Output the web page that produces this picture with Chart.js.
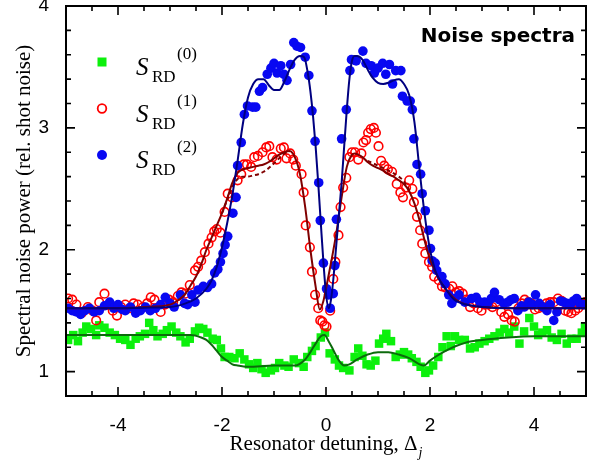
<!DOCTYPE html>
<html lang="en">
<head>
  <meta charset="UTF-8">
  <title>Noise spectra</title>
  <script src="https://cdn.jsdelivr.net/npm/chart.js"></script>
  <style>
    html, body {
      margin: 0;
      padding: 0;
      background: #fff;
    }
  </style>
</head>
<body>

<canvas id="noiseChart" width="592" height="466"></canvas>

<script>
// axis labels
const xTicks = [-4, -2, 0, 2, 4];
const yTicks = [1, 2, 3, 4];

// S_RD^(0) - green squares
const s0X = [-4.96,-4.86,-4.77,-4.68,-4.61,-4.52,-4.42,-4.36,-4.26,-4.16,
  -4.06,-3.96,-3.86,-3.76,-3.66,-3.58,-3.48,-3.40,-3.32,-3.24,
  -3.14,-3.06,-2.97,-2.88,-2.80,-2.70,-2.62,-2.52,-2.44,-2.36,
  -2.28,-2.18,-2.10,-2.02,-1.95,-1.86,-1.76,-1.66,-1.57,-1.48,
  -1.40,-1.32,-1.24,-1.16,-1.06,-0.98,-0.90,-0.80,-0.72,-0.62,
  -0.52,-0.43,-0.36,-0.27,-0.20,-0.10,-0.02,0.07,0.17,0.25,
  0.33,0.45,0.55,0.62,0.70,0.78,0.86,0.95,1.02,1.10,
  1.16,1.25,1.34,1.42,1.50,1.58,1.65,1.74,1.82,1.91,
  1.98,2.06,2.16,2.24,2.32,2.40,2.48,2.56,2.67,2.77,
  2.86,2.95,3.05,3.14,3.24,3.34,3.43,3.52,3.62,3.72,
  3.81,3.91,4.00,4.08,4.16,4.25,4.34,4.44,4.53,4.63,
  4.72,4.82,4.92,4.98];
const s0Y = [1.26,1.30,1.25,1.32,1.37,1.35,1.30,1.38,1.36,1.32,
  1.30,1.27,1.26,1.22,1.27,1.29,1.31,1.40,1.34,1.29,
  1.31,1.34,1.37,1.32,1.29,1.24,1.27,1.33,1.36,1.35,
  1.32,1.27,1.26,1.19,1.12,1.12,1.11,1.15,1.10,1.06,
  1.03,1.07,1.02,0.99,1.01,1.03,1.07,1.05,1.04,1.10,
  1.07,1.04,1.12,1.17,1.21,1.28,1.32,1.15,1.10,1.05,
  1.03,1.01,1.12,1.19,1.13,1.06,1.05,1.09,1.23,1.27,
  1.31,1.25,1.12,1.14,1.16,1.14,1.11,1.08,1.04,0.99,
  1.01,1.05,1.12,1.20,1.29,1.21,1.29,1.26,1.26,1.19,
  1.20,1.23,1.25,1.27,1.29,1.32,1.35,1.32,1.37,1.23,
  1.33,1.44,1.37,1.30,1.32,1.34,1.28,1.26,1.31,1.23,
  1.27,1.27,1.32,1.37];

// S_RD^(1) - red open circles
const s1X = [-4.96,-4.88,-4.80,-4.70,-4.58,-4.49,-4.42,-4.36,-4.26,-4.18,
  -4.10,-4.02,-3.94,-3.86,-3.78,-3.70,-3.62,-3.52,-3.44,-3.37,
  -3.30,-3.18,-3.10,-3.02,-2.94,-2.85,-2.78,-2.71,-2.62,-2.52,
  -2.46,-2.40,-2.33,-2.26,-2.20,-2.15,-2.10,-2.03,-1.95,-1.89,
  -1.81,-1.70,-1.63,-1.58,-1.52,-1.44,-1.38,-1.31,-1.22,-1.15,
  -1.09,-1.03,-0.95,-0.87,-0.81,-0.76,-0.69,-0.63,-0.58,-0.47,
  -0.43,-0.39,-0.31,-0.27,-0.21,-0.15,-0.11,-0.07,-0.03,0.01,
  0.08,0.14,0.18,0.24,0.28,0.33,0.39,0.45,0.50,0.56,
  0.62,0.68,0.72,0.77,0.81,0.86,0.92,0.96,1.01,1.06,
  1.12,1.19,1.27,1.36,1.43,1.48,1.54,1.60,1.66,1.69,
  1.75,1.81,1.85,1.91,1.98,2.04,2.08,2.17,2.23,2.30,
  2.37,2.43,2.50,2.56,2.63,2.70,2.77,2.84,2.92,2.99,
  3.05,3.12,3.20,3.27,3.37,3.43,3.50,3.57,3.63,3.70,
  3.76,3.82,3.89,3.95,4.02,4.09,4.16,4.24,4.31,4.38,
  4.46,4.53,4.60,4.66,4.72,4.79,4.85,4.93,4.99];
const s1Y = [1.60,1.59,1.55,1.48,1.53,1.50,1.42,1.57,1.64,1.55,
  1.50,1.46,1.53,1.55,1.52,1.56,1.55,1.53,1.56,1.61,
  1.59,1.49,1.55,1.59,1.57,1.62,1.65,1.64,1.71,1.83,
  1.86,1.91,1.98,2.05,2.10,2.15,2.17,2.14,2.31,2.46,
  2.43,2.57,2.62,2.70,2.70,2.68,2.76,2.77,2.80,2.84,
  2.85,2.76,2.74,2.83,2.84,2.75,2.79,2.74,2.69,2.62,
  2.47,2.20,2.02,1.82,1.63,1.52,1.42,1.41,1.38,1.37,
  1.50,1.76,1.90,2.12,2.35,2.51,2.59,2.76,2.80,2.80,
  2.74,2.79,2.88,2.90,2.96,2.99,3.00,2.96,2.85,2.73,
  2.69,2.66,2.64,2.54,2.47,2.43,2.51,2.57,2.50,2.39,
  2.27,2.16,2.05,1.97,1.90,1.86,1.78,1.75,1.70,1.69,
  1.68,1.70,1.65,1.66,1.64,1.59,1.53,1.56,1.52,1.50,
  1.55,1.55,1.53,1.57,1.49,1.45,1.47,1.42,1.41,1.52,
  1.56,1.59,1.57,1.56,1.51,1.52,1.53,1.56,1.57,1.57,
  1.60,1.58,1.50,1.49,1.48,1.50,1.52,1.56,1.57];

// S_RD^(2) - blue dots
const s2X = [-4.96,-4.88,-4.80,-4.72,-4.64,-4.55,-4.46,-4.36,-4.26,-4.16,
  -4.08,-4.00,-3.92,-3.86,-3.76,-3.66,-3.57,-3.47,-3.38,-3.28,
  -3.18,-3.09,-3.00,-2.92,-2.80,-2.72,-2.66,-2.58,-2.52,-2.46,
  -2.36,-2.28,-2.20,-2.14,-2.08,-2.03,-1.98,-1.94,-1.89,-1.79,
  -1.73,-1.70,-1.63,-1.57,-1.51,-1.41,-1.35,-1.28,-1.22,-1.13,
  -1.06,-1.00,-0.94,-0.87,-0.81,-0.75,-0.68,-0.62,-0.56,-0.49,
  -0.40,-0.33,-0.27,-0.21,-0.14,-0.11,-0.05,0.01,0.05,0.08,
  0.14,0.17,0.20,0.30,0.39,0.46,0.49,0.58,0.71,0.77,
  0.87,0.93,1.00,1.09,1.15,1.22,1.28,1.34,1.44,1.47,
  1.56,1.62,1.66,1.69,1.75,1.82,1.85,1.91,1.98,2.01,
  2.04,2.10,2.13,2.23,2.29,2.36,2.42,2.48,2.56,2.67,
  2.80,2.89,2.96,3.05,3.11,3.18,3.24,3.33,3.42,3.50,
  3.56,3.62,3.69,3.76,3.81,3.90,3.97,4.03,4.10,4.18,
  4.25,4.31,4.38,4.44,4.51,4.57,4.63,4.70,4.76,4.82,
  4.88,4.95];
const s2Y = [1.52,1.50,1.49,1.47,1.50,1.52,1.49,1.50,1.54,1.57,
  1.52,1.55,1.51,1.50,1.53,1.48,1.50,1.53,1.50,1.52,
  1.55,1.61,1.56,1.53,1.63,1.56,1.55,1.63,1.57,1.67,
  1.70,1.69,1.72,1.81,1.84,1.90,1.97,2.04,2.11,2.30,
  2.43,2.69,2.88,3.11,3.18,3.17,3.17,3.30,3.33,3.44,
  3.49,3.53,3.45,3.51,3.44,3.39,3.52,3.70,3.67,3.66,
  3.58,3.43,3.14,2.89,2.55,2.24,1.89,1.68,1.63,1.52,
  1.64,1.87,2.25,2.91,3.15,3.47,3.56,3.55,3.63,3.53,
  3.51,3.45,3.49,3.53,3.44,3.52,3.36,3.47,3.47,3.26,
  3.22,3.22,3.15,2.91,2.70,2.62,2.46,2.32,2.16,2.01,
  1.91,1.89,1.83,1.78,1.72,1.63,1.56,1.60,1.63,1.57,
  1.60,1.61,1.57,1.57,1.56,1.60,1.65,1.59,1.56,1.57,
  1.59,1.60,1.50,1.54,1.53,1.57,1.55,1.63,1.56,1.53,
  1.50,1.55,1.42,1.49,1.58,1.57,1.56,1.55,1.58,1.60,
  1.56,1.55];

// fitted curves
const fit0X = [-5,-4,-3,-2.6,-2.4,-2.3,-2.2,-2.1,-2.0,-1.9,
  -1.8,-1.7,-1.5,-1.0,-0.6,-0.4,-0.3,-0.2,-0.1,-0.03,
  0.05,0.15,0.25,0.35,0.45,0.6,0.8,1.0,1.2,1.4,
  1.6,1.8,1.88,2.0,2.1,2.3,2.5,2.7,3.0,3.5,4.0,5];
const fit0Y = [1.30,1.30,1.30,1.30,1.28,1.26,1.22,1.17,1.12,1.09,
  1.06,1.05,1.04,1.05,1.05,1.10,1.16,1.23,1.29,1.30,
  1.25,1.17,1.09,1.05,1.06,1.10,1.14,1.16,1.16,1.14,
  1.11,1.06,1.05,1.09,1.12,1.17,1.21,1.24,1.26,1.28,1.29,1.29];

const fit1X = [-5,-4,-3.5,-3,-2.8,-2.7,-2.6,-2.5,-2.4,-2.3,
  -2.2,-2.1,-2.0,-1.9,-1.8,-1.7,-1.6,-1.5,-1.4,-1.3,
  -1.2,-1.1,-1.0,-0.9,-0.8,-0.7,-0.6,-0.5,-0.4,-0.3,
  -0.2,-0.12,-0.05,0,0.1,0.2,0.3,0.4,0.5,0.55,
  0.7,0.8,0.9,1.0,1.1,1.2,1.3,1.4,1.5,1.6,
  1.7,1.8,1.9,2.0,2.1,2.2,2.3,2.4,2.5,2.7,
  3.0,4,5];
const fit1Y = [1.52,1.52,1.53,1.55,1.60,1.64,1.71,1.78,1.88,2.00,
  2.10,2.20,2.30,2.42,2.55,2.63,2.66,2.67,2.68,2.69,
  2.70,2.72,2.75,2.78,2.80,2.81,2.76,2.62,2.35,2.00,
  1.70,1.51,1.58,1.68,1.90,2.14,2.43,2.68,2.78,2.79,
  2.76,2.72,2.69,2.67,2.65,2.62,2.60,2.57,2.54,2.48,
  2.38,2.24,2.07,1.92,1.82,1.74,1.68,1.63,1.59,1.55,
  1.53,1.52,1.52];

// second model for S_RD^(1), dashed (only where it departs from the solid one)
const fit1bLeftX = [-2.0,-1.9,-1.8,-1.7,-1.6,-1.5,-1.4,-1.3,-1.2,-1.1,-1.0,-0.9,-0.8,-0.7];
const fit1bLeftY = [2.30,2.41,2.52,2.58,2.60,2.60,2.61,2.62,2.64,2.67,2.71,2.75,2.79,2.81];
const fit1bRightX = [0.8,1.0,1.2,1.4,1.5,1.6];
const fit1bRightY = [2.73,2.69,2.65,2.60,2.56,2.49];

const fit2X = [-5,-4,-3.5,-3,-2.7,-2.5,-2.3,-2.2,-2.1,-2.0,
  -1.9,-1.8,-1.7,-1.6,-1.5,-1.4,-1.3,-1.2,-1.1,-1.0,
  -0.9,-0.8,-0.7,-0.6,-0.5,-0.42,-0.35,-0.3,-0.25,-0.2,
  -0.15,-0.1,-0.05,0,0.05,0.1,0.15,0.2,0.25,0.3,
  0.35,0.4,0.45,0.5,0.55,0.6,0.7,0.8,0.9,1.0,
  1.1,1.2,1.3,1.4,1.5,1.6,1.7,1.8,1.9,2.0,
  2.1,2.2,2.3,2.4,2.5,2.7,3.0,3.5,4,5];
const fit2Y = [1.52,1.52,1.525,1.53,1.56,1.60,1.68,1.75,1.86,2.02,
  2.22,2.45,2.73,3.03,3.25,3.36,3.40,3.40,3.35,3.31,
  3.31,3.38,3.48,3.56,3.59,3.58,3.45,3.30,3.10,2.85,
  2.55,2.22,1.90,1.64,1.52,1.60,1.80,2.05,2.30,2.55,
  2.85,3.15,3.40,3.55,3.59,3.59,3.56,3.48,3.41,3.37,
  3.36,3.37,3.39,3.40,3.36,3.27,3.05,2.65,2.28,2.00,
  1.83,1.74,1.68,1.62,1.58,1.55,1.53,1.52,1.52,1.52];

const GREEN = '#0cf00c';
const RED = '#ff0000';
const BLUE = '#0808f2';

function pts(xs, ys) {
  return xs.map((x, i) => ({ x: x, y: ys[i] }));
}

function fitLine(xs, ys, color, dash) {
  return {
    data: pts(xs, ys),
    showLine: true,
    borderColor: color,
    borderWidth: 2,
    borderDash: dash || [],
    pointRadius: 0,
    cubicInterpolationMode: 'monotone',
    fill: false
  };
}

// frame, inward ticks, titles, legend and label
const decor = {
  id: 'decor',
  afterDraw(chart) {
    const ctx = chart.ctx;
    const a = chart.chartArea;
    const x = chart.scales.x;
    const y = chart.scales.y;

    ctx.save();
    ctx.strokeStyle = '#000';
    ctx.lineWidth = 2;
    ctx.strokeRect(a.left, a.top, a.right - a.left, a.bottom - a.top);

    ctx.lineWidth = 1.6;
    ctx.beginPath();
    for (let i = -10; i <= 10; i++) {
      const px = x.getPixelForValue(i * 0.5);
      const len = (i % 4 === 0) ? 9 : 5;
      ctx.moveTo(px, a.bottom);
      ctx.lineTo(px, a.bottom - len);
      ctx.moveTo(px, a.top);
      ctx.lineTo(px, a.top + len);
    }
    for (let i = 4; i <= 20; i++) {
      const py = y.getPixelForValue(i * 0.2);
      const len = (i % 5 === 0) ? 9 : 5;
      ctx.moveTo(a.left, py);
      ctx.lineTo(a.left + len, py);
      ctx.moveTo(a.right, py);
      ctx.lineTo(a.right - len, py);
    }
    ctx.stroke();

    ctx.fillStyle = '#000';

    // y title
    ctx.save();
    ctx.translate(24, (a.top + a.bottom) / 2);
    ctx.rotate(-Math.PI / 2);
    ctx.font = '21px "Liberation Serif", "Times New Roman", serif';
    ctx.textAlign = 'center';
    ctx.textBaseline = 'middle';
    ctx.fillText('Spectral noise power (rel. shot noise)', 0, 0);
    ctx.restore();

    // x title with italic subscript
    ctx.textAlign = 'left';
    ctx.textBaseline = 'alphabetic';
    ctx.font = '21px "Liberation Serif", "Times New Roman", serif';
    const xt = 'Resonator detuning, \u0394';
    const w = ctx.measureText(xt).width;
    const x0 = (a.left + a.right) / 2 - (w + 5) / 2;
    ctx.fillText(xt, x0, 450);
    ctx.font = 'italic 14px "Liberation Serif", "Times New Roman", serif';
    ctx.fillText('j', x0 + w + 1, 457);

    // legend
    const rows = [
      { sup: '(0)', kind: 'square' },
      { sup: '(1)', kind: 'ring' },
      { sup: '(2)', kind: 'dot' }
    ];
    rows.forEach((r, i) => {
      const cy = 62 + i * 46.5;
      if (r.kind === 'square') {
        ctx.fillStyle = GREEN;
        ctx.fillRect(102 - 4.5, cy - 4.5, 9, 9);
      } else if (r.kind === 'ring') {
        ctx.strokeStyle = RED;
        ctx.lineWidth = 1.8;
        ctx.beginPath();
        ctx.arc(102, cy, 4.3, 0, Math.PI * 2);
        ctx.stroke();
      } else {
        ctx.fillStyle = BLUE;
        ctx.beginPath();
        ctx.arc(102, cy, 5, 0, Math.PI * 2);
        ctx.fill();
      }
      ctx.fillStyle = '#000';
      ctx.font = 'italic 25px "Liberation Serif", "Times New Roman", serif';
      ctx.fillText('S', 136, cy + 13);
      ctx.font = '17px "Liberation Serif", "Times New Roman", serif';
      ctx.fillText('RD', 152, cy + 20);
      ctx.fillText(r.sup, 177, cy - 3);
    });

    // panel label
    ctx.font = 'bold 20px "DejaVu Sans", sans-serif';
    ctx.textAlign = 'right';
    ctx.fillText('Noise spectra', 575, 42);
    ctx.restore();
  }
};

const tickFont = { family: '"Liberation Sans", Arial, sans-serif', size: 19 };

new Chart(document.getElementById('noiseChart'), {
  type: 'scatter',
  data: {
    datasets: [
      fitLine(fit2X, fit2Y, '#000080'),
      fitLine(fit1X, fit1Y, '#800000'),
      fitLine(fit1bLeftX, fit1bLeftY, '#800000', [4, 3]),
      fitLine(fit1bRightX, fit1bRightY, '#800000', [4, 3]),
      fitLine(fit0X, fit0Y, '#0c6a0c'),
      {
        data: pts(s2X, s2Y),
        pointStyle: 'circle',
        pointRadius: 4.8,
        backgroundColor: BLUE,
        borderWidth: 0
      },
      {
        data: pts(s1X, s1Y),
        pointStyle: 'circle',
        pointRadius: 4.3,
        backgroundColor: 'rgba(255,255,255,0)',
        borderColor: RED,
        borderWidth: 1.6
      },
      {
        data: pts(s0X, s0Y),
        pointStyle: 'rect',
        pointRadius: 6,
        backgroundColor: GREEN,
        borderWidth: 0
      }
    ]
  },
  options: {
    responsive: false,
    animation: false,
    layout: { padding: { top: 5, right: 1, left: 0, bottom: 0 } },
    plugins: {
      legend: { display: false },
      tooltip: { enabled: false }
    },
    scales: {
      x: {
        type: 'linear',
        min: -5,
        max: 5,
        grid: { display: false },
        border: { display: false },
        afterBuildTicks: s => { s.ticks = xTicks.map(v => ({ value: v })); },
        afterFit: s => { s.height = 70; s.paddingLeft = 0; s.paddingRight = 0; },
        ticks: { color: '#000', font: tickFont, padding: 10, maxRotation: 0, autoSkip: false }
      },
      y: {
        type: 'linear',
        min: 0.8,
        max: 4,
        grid: { display: false },
        border: { display: false },
        afterBuildTicks: s => { s.ticks = yTicks.map(v => ({ value: v })); },
        afterFit: s => { s.width = 66; s.paddingTop = 0; s.paddingBottom = 0; },
        ticks: { color: '#000', font: tickFont, padding: 9, autoSkip: false }
      }
    }
  },
  plugins: [decor]
});
</script>

</body>
</html>
